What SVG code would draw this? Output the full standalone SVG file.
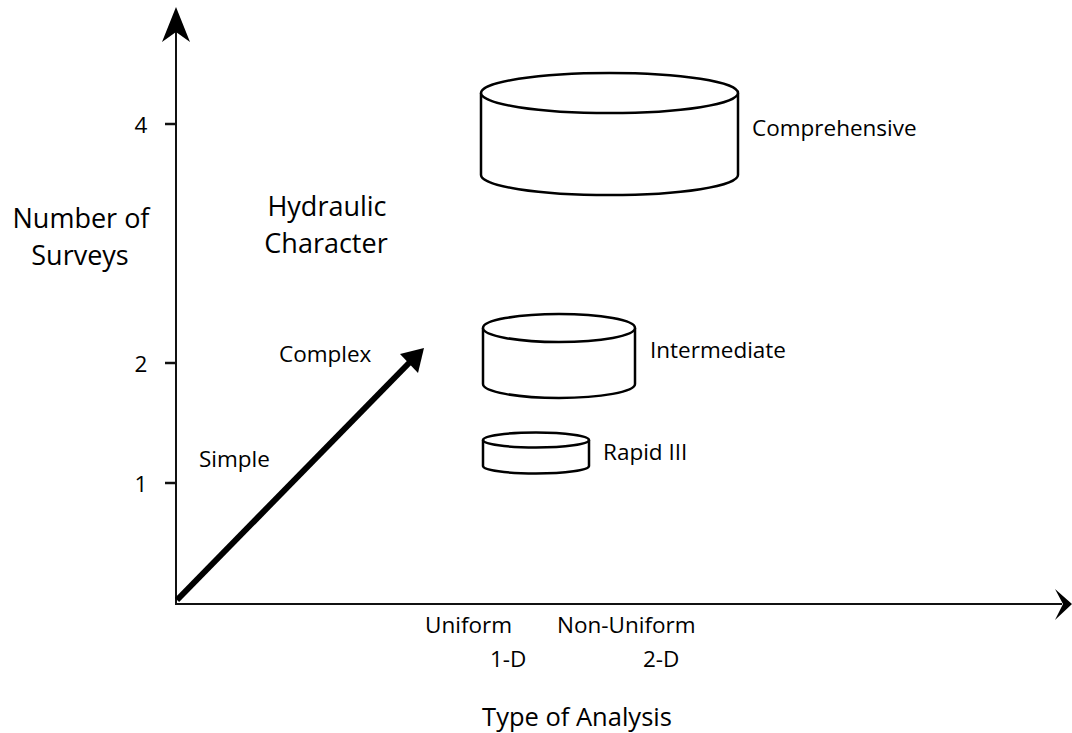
<svg xmlns="http://www.w3.org/2000/svg" width="1072" height="733" viewBox="0 0 1072 733">
<style>
text{font-family:"Open Sans","Liberation Sans",sans-serif;fill:#000}
.big{font-size:27px}
.sm{font-size:22.5px}
.ax{stroke:#111;stroke-width:2;fill:none}
.cyl{stroke:#000;stroke-width:2.5;fill:#fff}
</style>
<rect width="1072" height="733" fill="#fff"/>
<g id="connectors">
<line class="ax" x1="176" y1="604" x2="176" y2="30"/>
<path d="M176,7 L190,42 L176,32 L162,42 Z" fill="#000"/>
<line class="ax" x1="175" y1="604" x2="1062" y2="604"/>
<path d="M1072,604 L1055,589 L1063,604 L1055,620 Z" fill="#000"/>
<g stroke="#111" stroke-width="2.5">
<line x1="165" y1="124" x2="176" y2="124"/>
<line x1="165" y1="363" x2="176" y2="363"/>
<line x1="165" y1="483" x2="176" y2="483"/>
</g>
<line x1="177" y1="600" x2="410" y2="362" stroke="#000" stroke-width="6"/>
<path d="M424,348 L400,354 L418,373 Z" fill="#000"/>
</g>
<g id="axis-labels">
<text class="sm" x="141" y="133" text-anchor="middle">4</text>
<text class="sm" x="141" y="372" text-anchor="middle">2</text>
<text class="sm" x="141" y="492" text-anchor="middle">1</text>
<text class="big" x="81" y="228" text-anchor="middle">Number of</text>
<text class="big" x="80" y="265" text-anchor="middle">Surveys</text>
<text class="big" x="327" y="216" text-anchor="middle">Hydraulic</text>
<text class="big" x="326" y="253" text-anchor="middle">Character</text>
<text class="sm" x="279" y="362">Complex</text>
<text class="sm" x="199" y="467">Simple</text>
<text class="sm" x="425" y="633">Uniform</text>
<text class="sm" x="557" y="633">Non-Uniform</text>
<text class="sm" x="490" y="667">1-D</text>
<text class="sm" x="643" y="667">2-D</text>
<text x="577" y="726" text-anchor="middle" font-size="25.5">Type of Analysis</text>
</g>
<g id="comprehensive">
<path class="cyl" d="M481,93 L481,175 A128.5,20 0 0 0 738,175 L738,93"/>
<ellipse class="cyl" cx="609.5" cy="93" rx="128.5" ry="20"/>
<text class="sm" x="752" y="136">Comprehensive</text>
</g>
<g id="intermediate">
<path class="cyl" d="M483,328 L483,384 A76,14 0 0 0 635,384 L635,328"/>
<ellipse class="cyl" cx="559" cy="328" rx="76" ry="14"/>
<text class="sm" x="650" y="358">Intermediate</text>
</g>
<g id="rapid">
<path class="cyl" d="M483,440 L483,466 A53,7.5 0 0 0 589,466 L589,440"/>
<ellipse class="cyl" cx="536" cy="440" rx="53" ry="7.5"/>
<text class="sm" x="603" y="460">Rapid III</text>
</g>
</svg>
